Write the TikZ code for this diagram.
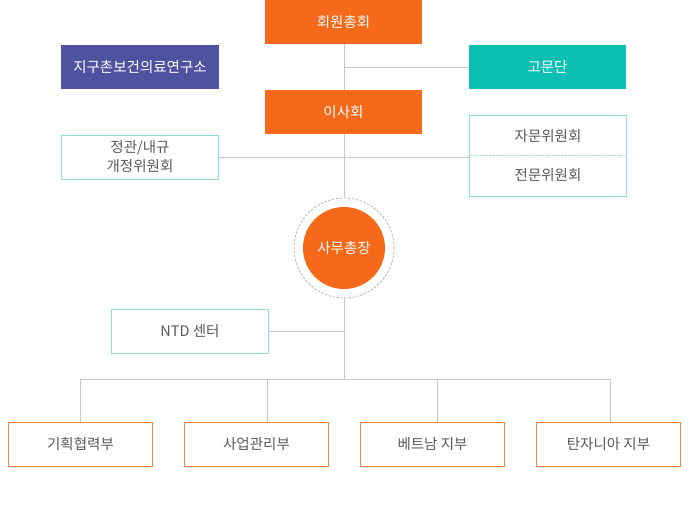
\documentclass[tikz,border=0pt]{standalone}
\usepackage{fontspec}
\setmainfont{Noto Sans CJK KR}
\usetikzlibrary{positioning}

\definecolor{orgorange}{HTML}{F7691A}
\definecolor{orgpurple}{HTML}{4F529E}
\definecolor{orgteal}{HTML}{0BBFB3}
\definecolor{orgline}{HTML}{C8C8C8}
\definecolor{orgring}{HTML}{AAAAAA}
\definecolor{orgframe}{HTML}{8EDCD5}
\definecolor{orgedge}{HTML}{F5843D}
\definecolor{orgtext}{HTML}{5A5A5A}

\tikzset{
    solidbox/.style={rectangle, fill=#1, text=white, minimum width=157pt, minimum height=44pt, inner sep=0pt, font=\fontsize{14.5}{17}\selectfont},
    framebox/.style={rectangle, draw=orgframe, line width=0.8pt, fill=white, text=orgtext, minimum width=157pt, minimum height=44pt, inner sep=0pt, align=center, font=\fontsize{14.5}{17}\selectfont},
    deptbox/.style={rectangle, draw=orgedge, line width=1pt, fill=white, text=orgtext, minimum width=144pt, minimum height=44pt, inner sep=0pt, font=\fontsize{14.5}{17}\selectfont},
    link/.style={draw=orgline, line width=0.8pt}
}

\begin{document}
\begin{tikzpicture}[x=1pt, y=-1pt]
        \useasboundingbox (0,0) rectangle (692,514);

        \node at (343.5,22) [solidbox=orgorange] (general) {회원총회};
        \node at (140,67) [solidbox=orgpurple, minimum width=158pt] (institute) {지구촌보건의료연구소};
        \node at (547.5,67) [solidbox=orgteal] (advisors) {고문단};
        \node at (343.5,112) [solidbox=orgorange] (board) {이사회};

        \node at (140,157) [framebox, font=\fontsize{14.5}{19}\selectfont] (bylaws) {정관/내규\\개정위원회};
        \node at (548,155.5) [framebox, minimum height=81pt] (committees) {};
        \node at (548,136) [text=orgtext, font=\fontsize{14.5}{17}\selectfont] (consult) {자문위원회};
        \node at (548,175.5) [text=orgtext, font=\fontsize{14.5}{17}\selectfont] (expert) {전문위원회};
        \draw[orgframe, line width=0.8pt, densely dotted] (committees.west) -- (committees.east);

        \node at (344,248) [circle, draw=orgring, dash pattern=on 2.5pt off 1.5pt, line width=0.7pt, minimum size=100pt, inner sep=0pt] (secretaryring) {};
        \node at (344,248) [circle, fill=orgorange, text=white, minimum size=82pt, inner sep=0pt, font=\fontsize{14.5}{17}\selectfont] (secretary) {사무총장};

        \node at (190,331) [framebox] (ntd) {NTD 센터};

        \node at (80.5,444) [deptbox] (planning) {기획협력부};
        \node at (256.5,444) [deptbox] (business) {사업관리부};
        \node at (432.5,444) [deptbox] (vietnam) {베트남 지부};
        \node at (608.5,444) [deptbox] (tanzania) {탄자니아 지부};

        \coordinate (advisorjoin) at (344,67);
        \coordinate (ntdjoin) at (344,331);
        \coordinate (busjoin) at (344,379);
        \coordinate (drop1) at (80,379);
        \coordinate (drop2) at (267,379);
        \coordinate (drop3) at (437,379);
        \coordinate (drop4) at (610,379);

        \draw[link] (general.south -| advisorjoin) -- (board.north -| advisorjoin);
        \draw[link] (advisorjoin) -- (advisors.west);
        \draw[link] (board.south -| advisorjoin) -- (secretaryring.north);
        \draw[link] (bylaws.east) -- (bylaws.east -| committees.west);
        \draw[link] (secretaryring.south) -- (busjoin);
        \draw[link] (ntd.east) -- (ntdjoin);

        \draw[link] (drop1) -- (drop4);
        \draw[link] (drop1) -- (drop1 |- planning.north);
        \draw[link] (drop2) -- (drop2 |- business.north);
        \draw[link] (drop3) -- (drop3 |- vietnam.north);
        \draw[link] (drop4) -- (drop4 |- tanzania.north);
    \end{tikzpicture}
\end{document}
